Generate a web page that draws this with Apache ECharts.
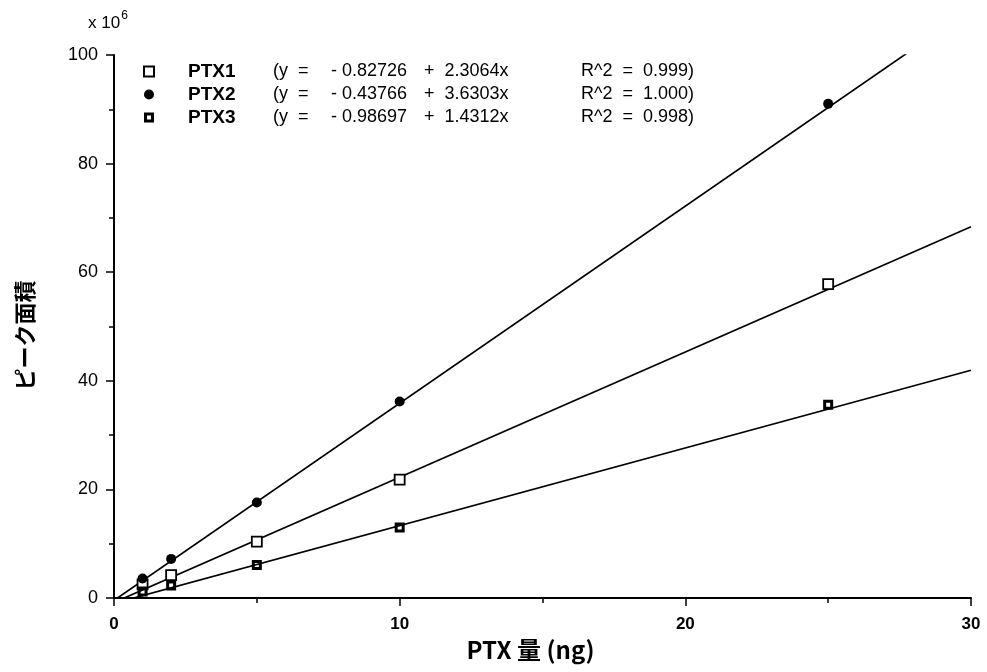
<!DOCTYPE html>
<html>
<head>
<meta charset="utf-8">
<script src="https://cdn.jsdelivr.net/npm/echarts@6/dist/echarts.min.js"></script>
<style>
  html, body { margin: 0; padding: 0; background: #fff; }
  #main { width: 987px; height: 672px; }
</style>
</head>
<body>
<div id="main"></div>
<script>
// PTX amount (ng) and peak areas (x 10^6)
var doses = [1, 2, 5, 10, 25];
var ptx1 = [2.5, 4.2, 10.4, 21.8, 57.8];
var ptx2 = [3.6, 7.2, 17.6, 36.2, 91.0];
var ptx3 = [1.2, 2.3, 6.1, 13.0, 35.6];

// fitted lines as printed in the legend
var names = ['PTX1', 'PTX2', 'PTX3'];
var intercepts = [-0.82726, -0.43766, -0.98697];
var slopes = [2.3064, 3.6303, 1.4312];
var r2 = ['0.999', '1.000', '0.998'];
var fitRange = [0, 30];

var xTicks = [0, 10, 20, 30];
var yTicks = [0, 20, 40, 60, 80, 100];

var font = '"Liberation Sans", Arial, sans-serif';
var jpFont = '"Noto Sans CJK JP", "Liberation Sans", sans-serif';

function pairs(xs, ys) {
  return xs.map(function (x, i) { return [x, ys[i]]; });
}

function fitLine(i) {
  return fitRange.map(function (x) { return [x, intercepts[i] + slopes[i] * x]; });
}

var symbols = [
  'rect',
  'circle',
  'path://M0,0H10V10H0Z M3,3V7H7V3Z'
];
var pointData = [ptx1, ptx2, ptx3];

var series = [];
names.forEach(function (n, i) {
  series.push({
    name: n + ' fit',
    type: 'line',
    data: fitLine(i),
    symbol: 'none',
    clip: true,
    silent: true,
    lineStyle: { color: '#000', width: 1.7 },
    z: 2
  });
});
names.forEach(function (n, i) {
  series.push({
    name: n,
    type: 'scatter',
    data: pairs(doses, pointData[i]),
    symbol: symbols[i],
    symbolSize: 10,
    itemStyle: i === 0
      ? { color: '#fff', borderColor: '#000', borderWidth: 1.8, opacity: 1 }
      : { color: '#000', opacity: 1 },
    z: 3
  });
});

var chart = echarts.init(document.getElementById('main'));
chart.setOption({
  animation: false,
  backgroundColor: '#fff',
  grid: { left: 114, right: 16, top: 55, bottom: 74 },
  legend: {
    data: names,
    orient: 'vertical',
    left: 138,
    top: 57,
    itemWidth: 10,
    itemHeight: 10,
    itemGap: 4,
    formatter: function (name) {
      var i = names.indexOf(name);
      var b = '- ' + Math.abs(intercepts[i]).toFixed(5);
      var c = '+  ' + slopes[i].toFixed(4) + 'x';
      return '{n|' + name + '}{a|(y  =}{b|' + b + '}{c|' + c + '}{d|R^2  =  ' + r2[i] + ')}';
    },
    textStyle: {
      fontFamily: font,
      fontSize: 18,
      color: '#000',
      lineHeight: 19,
      rich: {
        n: { fontFamily: font, fontSize: 19, fontWeight: 'bold', color: '#000', width: 85, padding: [0, 0, 0, 29] },
        a: { fontFamily: font, fontSize: 18, color: '#000', width: 58 },
        b: { fontFamily: font, fontSize: 18, color: '#000', width: 93 },
        c: { fontFamily: font, fontSize: 18, color: '#000', width: 157 },
        d: { fontFamily: font, fontSize: 18, color: '#000' }
      }
    }
  },
  xAxis: {
    type: 'value',
    min: xTicks[0],
    max: xTicks[xTicks.length - 1],
    interval: xTicks[1] - xTicks[0],
    name: 'PTX 量 (ng)',
    nameLocation: 'middle',
    nameGap: 40,
    nameTextStyle: { fontFamily: jpFont, fontSize: 24, fontWeight: 'bold', color: '#000', padding: [0, 24, 0, 0] },
    axisLine: { lineStyle: { color: '#000', width: 2 } },
    axisTick: { inside: false, length: 8, lineStyle: { color: '#000', width: 1.5 } },
    minorTick: { show: true, splitNumber: 2, length: 5, lineStyle: { color: '#000', width: 1.5 } },
    axisLabel: { margin: 18, fontFamily: font, fontSize: 17, fontWeight: 'bold', color: '#000' },
    splitLine: { show: false }
  },
  yAxis: {
    type: 'value',
    min: yTicks[0],
    max: yTicks[yTicks.length - 1],
    interval: yTicks[1] - yTicks[0],
    name: 'ピーク面積',
    nameLocation: 'middle',
    nameRotate: 90,
    nameGap: 78,
    nameTextStyle: { fontFamily: jpFont, fontSize: 22, fontWeight: 'bold', color: '#000', padding: [0, 18, 0, 0] },
    axisLine: { show: true, lineStyle: { color: '#000', width: 2 } },
    axisTick: { show: true, inside: false, length: 8, lineStyle: { color: '#000', width: 1.5 } },
    minorTick: { show: true, splitNumber: 2, length: 5, lineStyle: { color: '#000', width: 1.5 } },
    axisLabel: { margin: 16, fontFamily: font, fontSize: 18, color: '#000' },
    splitLine: { show: false }
  },
  graphic: [{
    type: 'text',
    left: 88,
    top: 10,
    style: {
      text: '{m|x 10}{s|6}',
      rich: {
        m: { fontFamily: font, fontSize: 17, fill: '#000', padding: [9, 0, 0, 0] },
        s: { fontFamily: font, fontSize: 12, fill: '#000', padding: [0, 0, 6, 1] }
      }
    }
  }],
  series: series
});
</script>
</body>
</html>
